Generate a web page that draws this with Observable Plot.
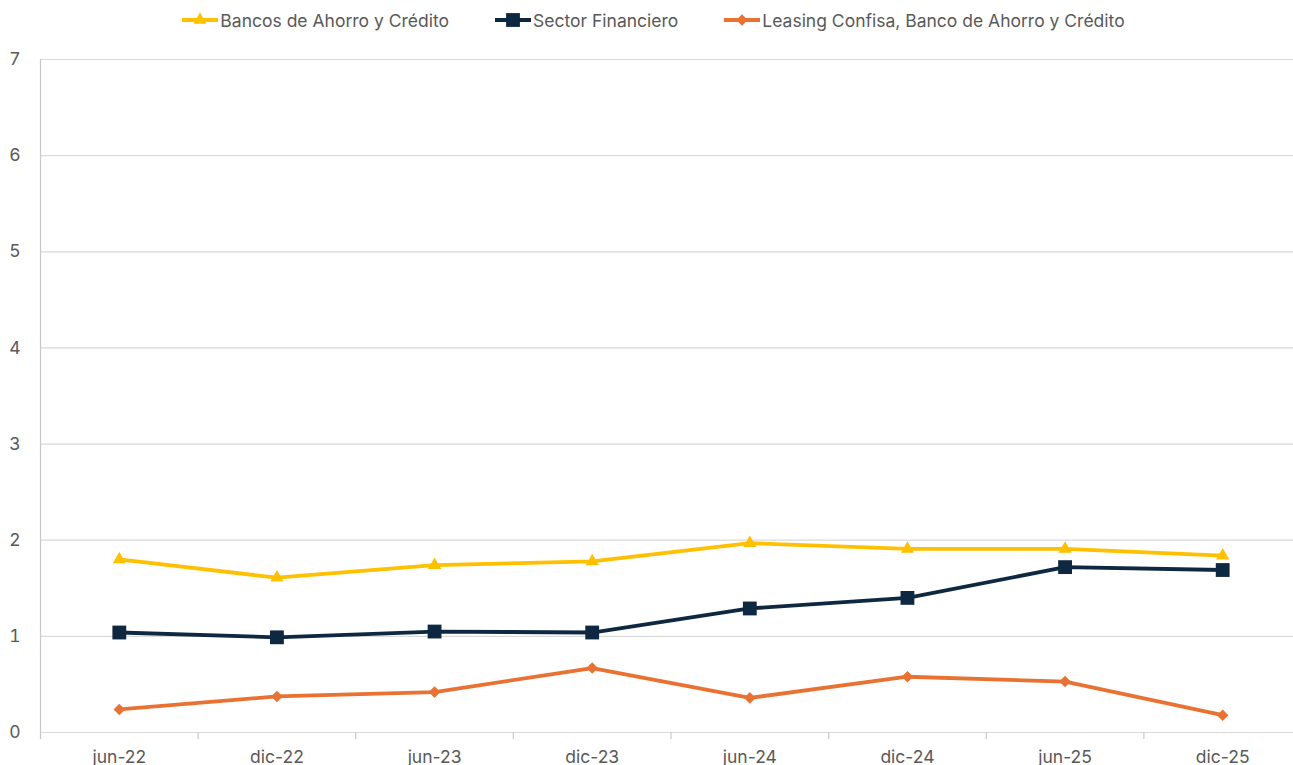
<!DOCTYPE html>
<html>
<head>
<meta charset="utf-8">
<script src="https://cdn.jsdelivr.net/npm/d3@7"></script>
<script src="https://cdn.jsdelivr.net/npm/@observablehq/plot@0.6"></script>
<style>
  html, body { margin: 0; padding: 0; background: #fff; overflow: hidden; }
  body { width: 1293px; height: 765px; position: relative; font-family: Inter, Roboto, "Liberation Sans", sans-serif; }
  #legend { position: absolute; left: 0; top: 0; width: 1293px; height: 40px; display: flex; justify-content: center; align-items: center; gap: 46px; color: #595959; font-size: 17.5px; padding-left: 14px; box-sizing: border-box; z-index: 2; }
  #legend .item { display: flex; align-items: center; }
  #legend svg { margin-right: 2px; }
  #chart { position: absolute; left: 0; top: 0; width: 1301px; }
  #chart svg { display: block; max-width: none !important; }
</style>
</head>
<body>
<div id="chart"></div>
<div id="legend"></div>
<script>
const categories = ["jun-22", "dic-22", "jun-23", "dic-23", "jun-24", "dic-24", "jun-25", "dic-25"];
const seriesNames = ["Bancos de Ahorro y Crédito", "Sector Financiero", "Leasing Confisa, Banco de Ahorro y Crédito"];
const bancos = [1.80, 1.61, 1.74, 1.78, 1.97, 1.91, 1.91, 1.84];
const sector = [1.04, 0.99, 1.05, 1.04, 1.29, 1.40, 1.72, 1.69];
const leasing = [0.24, 0.375, 0.42, 0.67, 0.36, 0.58, 0.53, 0.18];
const yTicks = [0, 1, 2, 3, 4, 5, 6, 7];

const colors = ["#FFC000", "#0E2841", "#E97132"];
const symbols = ["triangle", "square", "diamond2"];
const radii = [4.9, 7.8, 5.2];

const values = [bancos, sector, leasing];
const data = [];
seriesNames.forEach((s, i) => categories.forEach((c, j) => data.push({ series: s, cat: c, value: values[i][j] })));

const W = 1301, mL = 40;
const band = (W - mL) / categories.length;

const marks = [
  Plot.ruleY(yTicks, { stroke: "#d9d9d9", strokeWidth: 1.2 }),
  Plot.frame({ anchor: "left", stroke: "#c8c8c8", strokeWidth: 1.2 }),
  Plot.axisX({ tickSize: 7, dx: -band / 2, tickFormat: () => "", stroke: "#c8c8c8", strokeWidth: 1.2 }),
  Plot.axisX({ tickSize: 0, tickPadding: 18, fontSize: 17.5, fill: "#595959" }),
  Plot.axisY({ ticks: yTicks, tickFormat: d3.format("d"), tickSize: 0, tickPadding: 20, fontSize: 17.5, fill: "#595959" })
];
seriesNames.forEach((s, i) => {
  const d = data.filter(r => r.series === s);
  marks.push(Plot.line(d, { x: "cat", y: "value", stroke: colors[i], strokeWidth: 3.8 }));
  marks.push(Plot.dot(d, { x: "cat", y: "value", symbol: () => symbols[i], fill: colors[i], stroke: "none", r: radii[i] }));
});

const chart = Plot.plot({
  width: W,
  height: 765,
  marginLeft: mL,
  marginRight: 0,
  marginTop: 59,
  marginBottom: 33,
  style: { fontFamily: "Inter, Roboto, 'Liberation Sans', sans-serif", fontSize: "17.5px", background: "#fff", overflow: "visible", maxWidth: "none" },
  x: { type: "point", domain: categories, padding: 0.5, round: false, label: null },
  y: { domain: [0, 7], label: null },
  symbol: { type: "identity" },
  marks
});
document.getElementById("chart").appendChild(chart);

// legend
const legend = document.getElementById("legend");
seriesNames.forEach((s, i) => {
  const item = document.createElement("div");
  item.className = "item";
  const sw = d3.create("svg").attr("width", 36).attr("height", 16);
  sw.append("line").attr("x1", 0).attr("x2", 36).attr("y1", 8).attr("y2", 8).attr("stroke", colors[i]).attr("stroke-width", 3.8);
  const sym = { triangle: d3.symbolTriangle, square: d3.symbolSquare, diamond2: d3.symbolDiamond2 }[symbols[i]];
  sw.append("path").attr("transform", "translate(18,8)").attr("d", d3.symbol(sym, radii[i] * radii[i] * Math.PI)()).attr("fill", colors[i]);
  item.appendChild(sw.node());
  const t = document.createElement("span");
  t.textContent = s;
  item.appendChild(t);
  legend.appendChild(item);
});
</script>
</body>
</html>
